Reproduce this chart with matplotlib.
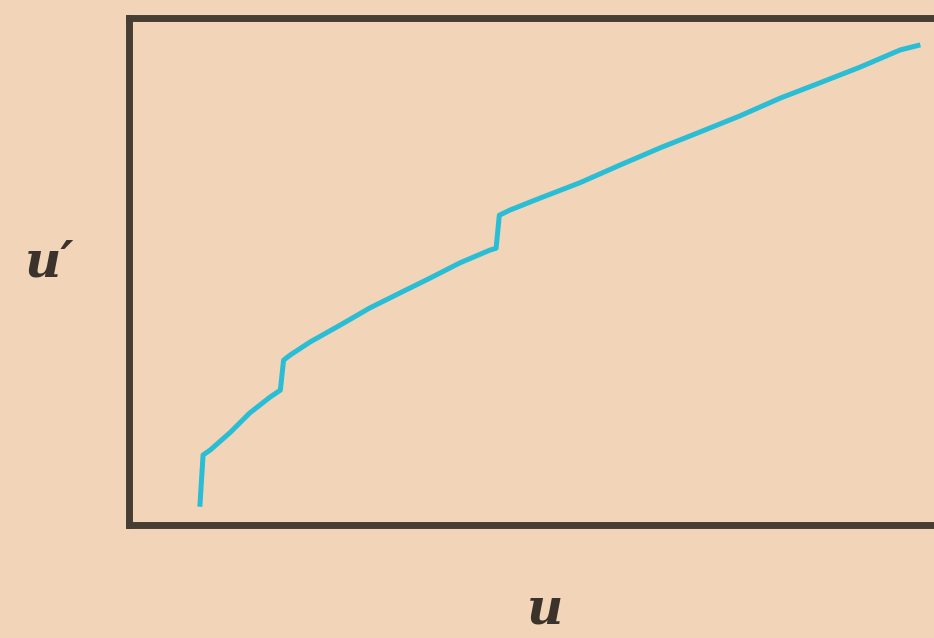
import matplotlib
matplotlib.use("Agg")
import matplotlib.pyplot as plt

# curve of u' against u, with small jumps along the way
u = [8.8, 9.2, 10.1, 12.6, 15.0, 17.5, 18.8, 19.2, 20.0, 22.5, 26.2, 29.9,
     33.7, 37.4, 41.1, 44.8, 45.6, 46.0, 47.3, 51.1, 56.0, 61.0, 66.0, 70.9,
     75.9, 80.9, 85.8, 90.8, 95.8, 98.3]
u_prime = [3.6, 13.8, 14.8, 18.3, 22.1, 25.2, 26.6, 32.5, 33.5, 36.1, 39.4, 42.8,
           45.8, 48.7, 51.7, 54.2, 54.6, 61.1, 62.1, 64.5, 67.5, 71.0, 74.4, 77.5,
           80.7, 84.2, 87.2, 90.3, 93.7, 94.7]

bg = "#f2d5b8"
ink = "#463d35"

fig = plt.figure(figsize=(9.34, 6.38), dpi=100, facecolor=bg)
ax = fig.add_axes([129 / 934, 113 / 638, 830 / 934, 507 / 638])
ax.set_facecolor(bg)

ax.plot(u, u_prime, color="#29bdd6", lw=3.6, solid_capstyle="butt")

ax.set_xlim(0, 103.1)
ax.set_ylim(0, 100)
ax.set_xticks([])
ax.set_yticks([])
for side in ["left", "top", "bottom"]:
    ax.spines[side].set_color(ink)
    ax.spines[side].set_linewidth(5)
ax.spines["right"].set_visible(False)

fig.text(545 / 934, 1 - 610 / 638, "u", fontsize=36, family="DejaVu Serif",
         style="italic", weight="bold", color="#3a322b", ha="center", va="center")
fig.text(50 / 934, 1 - 263 / 638, "u\u2032", fontsize=36, family="DejaVu Serif",
         style="italic", weight="bold", color="#3a322b", ha="center", va="center")

fig.savefig("out.png", dpi=100, facecolor=bg)
